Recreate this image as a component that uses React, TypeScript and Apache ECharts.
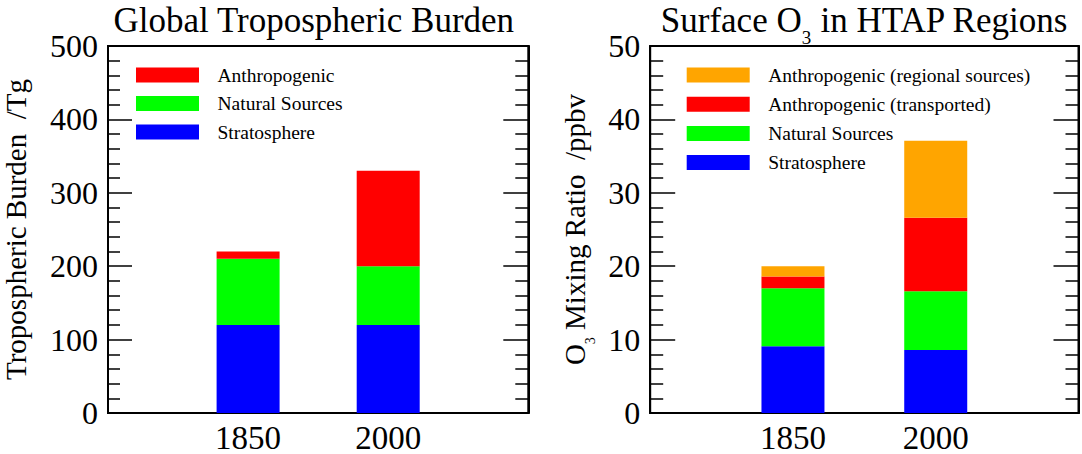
import React, { useEffect, useRef } from 'react';
import * as echarts from 'echarts';

// ---- data ----
const years = ['1850', '2000'];

// Left panel: Global tropospheric ozone burden (Tg)
const burdenStratosphere = [120, 120];
const burdenNatural = [90, 80];
const burdenAnthropogenic = [10, 130];

// Right panel: Surface O3 in HTAP regions (ppbv)
const o3Stratosphere = [9.1, 8.6];
const o3Natural = [7.9, 8.0];
const o3Transported = [1.6, 10.0];
const o3Regional = [1.4, 10.5];

const burdenTicks = { min: 0, max: 500, interval: 100 };
const o3Ticks = { min: 0, max: 50, interval: 10 };

const leftLegend = ['Anthropogenic', 'Natural Sources', 'Stratosphere'];
const rightLegend = [
  'Anthropogenic (regional sources)',
  'Anthropogenic (transported)',
  'Natural Sources',
  'Stratosphere',
];

// ---- style ----
const FONT = 'Liberation Serif';
const BLUE = '#0000ff';
const GREEN = '#00ff00';
const RED = '#ff0000';
const ORANGE = '#ffa500';

const categories = ['', ...years, ''];
const pad = (arr: number[]) => [null, ...arr, null];

function xAxisFor(gridIndex: number) {
  return {
    type: 'category',
    gridIndex,
    data: categories,
    boundaryGap: false,
    axisTick: { show: false },
    axisLine: { show: true, lineStyle: { color: '#000', width: 2 } },
    axisLabel: {
      interval: 0,
      color: '#000',
      fontFamily: FONT,
      fontSize: 33,
      margin: 8,
      formatter: (v: string) => (v ? `{t|${v}}` : ''),
      rich: { t: { fontFamily: FONT, fontSize: 33, color: '#000' } },
    },
    splitLine: { show: false },
  };
}

function yAxisFor(gridIndex: number, ticks: any, position: 'left' | 'right', majorLen: number, minorLen: number) {
  return {
    type: 'value',
    gridIndex,
    position,
    min: ticks.min,
    max: ticks.max,
    interval: ticks.interval,
    axisLine: { show: true, lineStyle: { color: '#000', width: 2 } },
    axisTick: { show: true, inside: true, length: majorLen, lineStyle: { color: '#000', width: 1.5 } },
    minorTick: { show: true, splitNumber: 5, length: minorLen, lineStyle: { color: '#000', width: 1.5 } },
    axisLabel: {
      show: position === 'left',
      color: '#000',
      fontFamily: FONT,
      fontSize: 32,
      margin: 10,
      formatter: (v: number) => `{t|${v}}`,
      rich: { t: { fontFamily: FONT, fontSize: 32, color: '#000' } },
    },
    splitLine: { show: false },
    minorSplitLine: { show: false },
  };
}

function legendFor(left: number, data: string[], gap: number) {
  return {
    orient: 'vertical',
    left,
    top: 65,
    padding: 0,
    itemWidth: 63,
    itemHeight: 15,
    itemGap: gap,
    icon: 'rect',
    selectedMode: false,
    data,
    textStyle: { color: '#000', fontFamily: FONT, fontSize: 19.5, padding: [0, 0, 0, 13.5] },
  };
}

export default function App() {
  const ref = useRef<HTMLDivElement>(null);

  useEffect(() => {
    if (!ref.current) return;
    const chart = echarts.init(ref.current, undefined, { renderer: 'svg' });

    const leftY: any = yAxisFor(0, burdenTicks, 'left', 24, 12);
    leftY.name = 'Tropospheric Burden  /Tg';
    leftY.nameLocation = 'middle';
    leftY.nameGap = 78;
    leftY.nameTextStyle = { color: '#000', fontFamily: FONT, fontSize: 29 };

    const rightY: any = yAxisFor(1, o3Ticks, 'left', 25, 13);
    rightY.name = 'O{sub|3} Mixing Ratio  /ppbv';
    rightY.nameLocation = 'middle';
    rightY.nameGap = 53;
    rightY.nameTextStyle = {
      color: '#000',
      fontFamily: FONT,
      fontSize: 29,
      rich: { sub: { fontFamily: FONT, fontSize: 14, color: '#000', padding: [30, 0, 0, 0] } },
    };

    const titleMain = { fontFamily: FONT, fontSize: 35, color: '#000', verticalAlign: 'top' };

    const option: any = {
      animation: false,
      backgroundColor: '#fff',
      textStyle: { fontFamily: FONT },
      title: [
        {
          text: 'Global Tropospheric Burden',
          left: 313.8,
          textAlign: 'center',
          top: 2.5,
          padding: 0,
          textStyle: { color: '#000', fontFamily: FONT, fontSize: 35, fontWeight: 'normal' },
        },
        {
          text: '{m|Surface O}{sub|3}{m| in HTAP Regions}',
          left: 864.4,
          textAlign: 'center',
          top: 2.5,
          padding: 0,
          textStyle: {
            color: '#000',
            fontFamily: FONT,
            fontSize: 35,
            fontWeight: 'normal',
            rich: {
              m: titleMain,
              sub: { fontFamily: FONT, fontSize: 19, color: '#000', verticalAlign: 'top', padding: [25, 0, 0, 0] },
            },
          },
        },
      ],
      legend: [legendFor(136, leftLegend, 8.5), legendFor(686.7, rightLegend, 9.2)],
      grid: [
        { left: 99.3, right: 553.7, top: 46, bottom: 40.7, show: true, borderColor: '#000', borderWidth: 2, backgroundColor: 'transparent' },
        { left: 650.2, right: 3.5, top: 46, bottom: 40.7, show: true, borderColor: '#000', borderWidth: 2, backgroundColor: 'transparent' },
      ],
      xAxis: [xAxisFor(0), xAxisFor(1)],
      yAxis: [
        leftY,
        yAxisFor(0, burdenTicks, 'right', 25, 13),
        rightY,
        yAxisFor(1, o3Ticks, 'right', 25, 13),
      ],
      series: [
        { name: 'Stratosphere', type: 'bar', stack: 'burden', xAxisIndex: 0, yAxisIndex: 0, barWidth: 63, itemStyle: { color: BLUE }, data: pad(burdenStratosphere) },
        { name: 'Natural Sources', type: 'bar', stack: 'burden', xAxisIndex: 0, yAxisIndex: 0, barWidth: 63, itemStyle: { color: GREEN }, data: pad(burdenNatural) },
        { name: 'Anthropogenic', type: 'bar', stack: 'burden', xAxisIndex: 0, yAxisIndex: 0, barWidth: 63, itemStyle: { color: RED }, data: pad(burdenAnthropogenic) },
        { name: 'Stratosphere', type: 'bar', stack: 'o3', xAxisIndex: 1, yAxisIndex: 2, barWidth: 63, itemStyle: { color: BLUE }, data: pad(o3Stratosphere) },
        { name: 'Natural Sources', type: 'bar', stack: 'o3', xAxisIndex: 1, yAxisIndex: 2, barWidth: 63, itemStyle: { color: GREEN }, data: pad(o3Natural) },
        { name: 'Anthropogenic (transported)', type: 'bar', stack: 'o3', xAxisIndex: 1, yAxisIndex: 2, barWidth: 63, itemStyle: { color: RED }, data: pad(o3Transported) },
        { name: 'Anthropogenic (regional sources)', type: 'bar', stack: 'o3', xAxisIndex: 1, yAxisIndex: 2, barWidth: 63, itemStyle: { color: ORANGE }, data: pad(o3Regional) },
      ],
    };

    chart.setOption(option);
    return () => chart.dispose();
  }, []);

  return (
    <div
      ref={ref}
      style={{ position: 'fixed', left: 0, top: 0, width: 1082, height: 454, background: '#fff' }}
    />
  );
}
